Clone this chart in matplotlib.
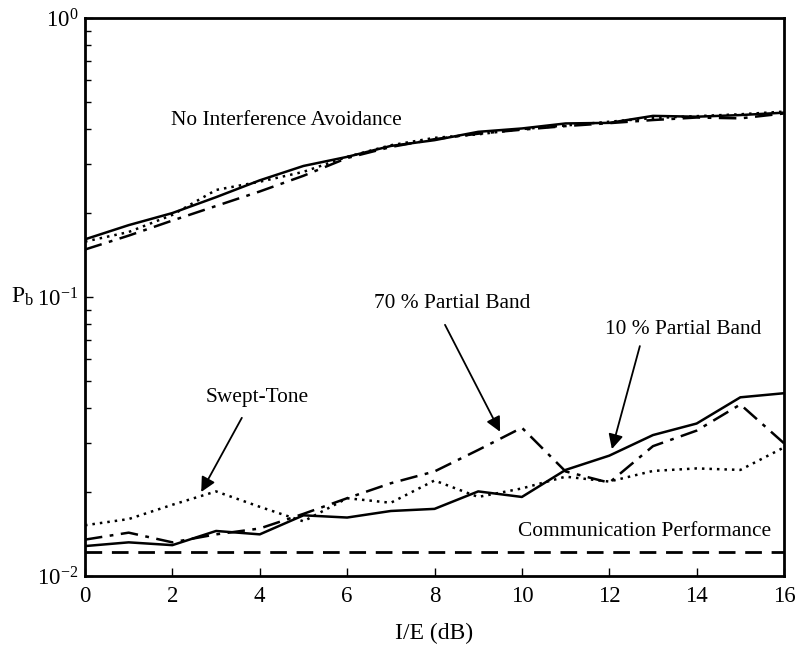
import numpy as np
import matplotlib.pyplot as plt
from matplotlib.ticker import LogLocator, NullFormatter, FixedLocator

plt.rcParams['font.family'] = ['Liberation Serif', 'DejaVu Serif']
plt.rcParams['mathtext.fontset'] = 'custom'
plt.rcParams['mathtext.rm'] = 'Liberation Serif'
plt.rcParams['mathtext.it'] = 'Liberation Serif:italic'

ie_db = np.arange(0, 17)

# no interference avoidance (three jammer types overlap)
top_solid = [0.161, 0.181, 0.200, 0.228, 0.262, 0.295, 0.318, 0.348, 0.365, 0.391, 0.402,
             0.419, 0.421, 0.446, 0.443, 0.449, 0.458]
top_dashdot = [0.148, 0.166, 0.188, 0.212, 0.239, 0.272, 0.315, 0.345, 0.368, 0.385, 0.398,
               0.410, 0.420, 0.431, 0.440, 0.437, 0.455]
top_dotted = [0.158, 0.171, 0.197, 0.242, 0.259, 0.281, 0.318, 0.350, 0.372, 0.383, 0.400,
              0.412, 0.425, 0.438, 0.445, 0.452, 0.462]

# with interference avoidance
pb10 = [0.0128, 0.0132, 0.0129, 0.0145, 0.0141, 0.0165, 0.0162, 0.0171, 0.0174, 0.0201, 0.0192,
        0.0240, 0.0270, 0.0320, 0.0352, 0.0437, 0.0452]
pb70 = [0.0135, 0.0143, 0.0132, 0.0141, 0.0148, 0.0167, 0.0190, 0.0215, 0.0237, 0.0283, 0.0340,
        0.0237, 0.0216, 0.0292, 0.0332, 0.0412, 0.0299]
swept = [0.0152, 0.0160, 0.0180, 0.0201, 0.0177, 0.0157, 0.0190, 0.0183, 0.0220, 0.0192, 0.0206,
         0.0227, 0.0218, 0.0238, 0.0243, 0.0240, 0.0289]
comm_perf = 0.0122

fig = plt.figure(figsize=(7.98, 6.45), dpi=100)
ax = fig.add_axes([0.1065, 0.107, 0.8760, 0.865])

lw = 1.8
ax.plot(ie_db, top_solid, 'k-', lw=lw)
ax.plot(ie_db, top_dashdot, color='k', lw=lw, dashes=(7, 3, 1.5, 3))
ax.plot(ie_db, top_dotted, color='k', lw=lw, dashes=(1, 2))
ax.plot(ie_db, pb10, 'k-', lw=lw)
ax.plot(ie_db, pb70, color='k', lw=lw, dashes=(7, 3, 1.5, 3))
ax.plot(ie_db, swept, color='k', lw=lw, dashes=(1, 2))
ax.axhline(comm_perf, color='k', lw=2, dashes=(6, 3.5))

ax.set_yscale('log')
ax.set_xlim(0, 16)
ax.set_ylim(1e-2, 1)

ax.xaxis.set_major_locator(FixedLocator(np.arange(0, 17, 2)))
ax.set_yticks([1e-2, 1e-1, 1])
ax.set_yticklabels(['$10^{-2}$', '$10^{-1}$', '$10^{0}$'])
ax.yaxis.set_minor_locator(LogLocator(base=10, subs=np.arange(2, 10)))
ax.yaxis.set_minor_formatter(NullFormatter())
ax.tick_params(axis='both', direction='in', labelsize=16.5, width=1, length=6)
ax.tick_params(axis='y', which='minor', direction='in', length=4, width=1)
ax.tick_params(axis='x', pad=7)
ax.tick_params(axis='y', pad=5)
for s in ax.spines.values():
    s.set_linewidth(2)

ax.set_xlabel('I/E (dB)', fontsize=17, labelpad=12)
ax.set_ylabel('P$_\\mathrm{b}$', fontsize=17, rotation=0, ha='center', va='center')
ax.yaxis.set_label_coords(-0.090, 0.5)

fs = 15.4
ax.text(4.6, 0.428, 'No Interference Avoidance', fontsize=fs, ha='center', va='center')
ax.text(12.8, 0.0144, 'Communication Performance', fontsize=fs, ha='center', va='center')
ax.text(8.40, 0.0948, '70 % Partial Band', fontsize=fs, ha='center', va='center')
ax.text(13.69, 0.0762, '10 % Partial Band', fontsize=fs, ha='center', va='center')
ax.text(3.94, 0.0435, 'Swept-Tone', fontsize=fs, ha='center', va='center')

arrow = dict(arrowstyle='-|>', color='k', lw=1.3, mutation_scale=22, shrinkA=0, shrinkB=0)
ax.annotate('', xy=(9.5, 0.0329), xytext=(8.24, 0.0795), arrowprops=arrow)
ax.annotate('', xy=(12.06, 0.0285), xytext=(12.70, 0.0667), arrowprops=arrow)
ax.annotate('', xy=(2.66, 0.0200), xytext=(3.59, 0.0369), arrowprops=arrow)

fig.savefig('out.png', dpi=100)
